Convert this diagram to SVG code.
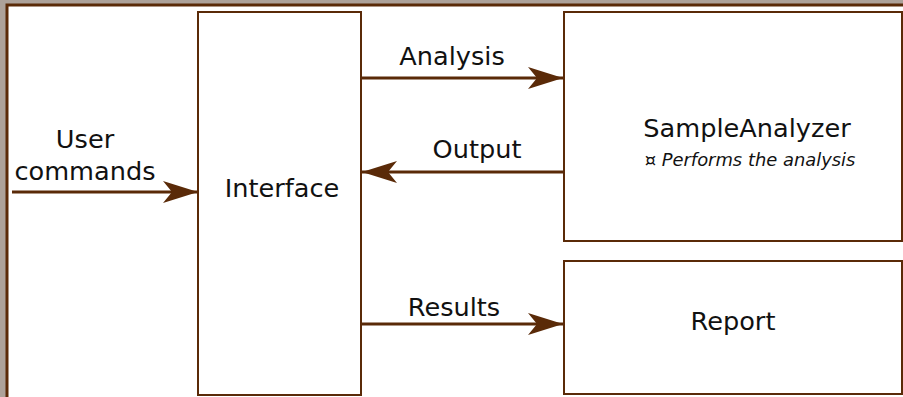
<svg xmlns="http://www.w3.org/2000/svg" width="903" height="397" viewBox="0 0 903 397">
<style>
.box{fill:#fff;stroke:#5a2a08;stroke-width:2}
.conn{stroke:#5a2a08;stroke-width:3;fill:none}
.t{font-family:"DejaVu Sans",sans-serif;font-size:25.6px;fill:#111;text-anchor:middle}
.s{font-family:"DejaVu Sans",sans-serif;font-size:17.9px;font-style:italic;fill:#111;text-anchor:middle}
</style>
<defs>
<marker id="ah" markerUnits="userSpaceOnUse" markerWidth="40" markerHeight="26" refX="35" refY="11" orient="auto">
<path d="M0,0 L35,11 L0,22 L9,11 Z" fill="#5a2a08"/>
</marker>
</defs>
<rect x="0" y="0" width="903" height="397" fill="#ada29a"/>
<rect x="7" y="5" width="920" height="420" fill="#fff" stroke="#5a2a08" stroke-width="3"/>
<g id="connectors">
<line class="conn" x1="12" y1="192" x2="198" y2="192" marker-end="url(#ah)"/>
<line class="conn" x1="361" y1="78" x2="563" y2="78" marker-end="url(#ah)"/>
<line class="conn" x1="564" y1="172" x2="362" y2="172" marker-end="url(#ah)"/>
<line class="conn" x1="361" y1="324" x2="563" y2="324" marker-end="url(#ah)"/>
<text class="t" x="452" y="65">Analysis</text>
<text class="t" x="477" y="158">Output</text>
<text class="t" x="454" y="316">Results</text>
<text class="t" x="85" y="148">User</text>
<text class="t" x="85" y="180">commands</text>
</g>
<g id="interface">
<rect class="box" x="198" y="12" width="163" height="383"/>
<text class="t" x="282" y="197">Interface</text>
</g>
<g id="sampleanalyzer">
<rect class="box" x="564" y="12" width="338" height="229"/>
<text class="t" x="747" y="137">SampleAnalyzer</text>
<text class="s" x="750" y="166">¤ Performs the analysis</text>
</g>
<g id="report">
<rect class="box" x="564" y="261" width="338" height="133"/>
<text class="t" x="733" y="330">Report</text>
</g>
</svg>
